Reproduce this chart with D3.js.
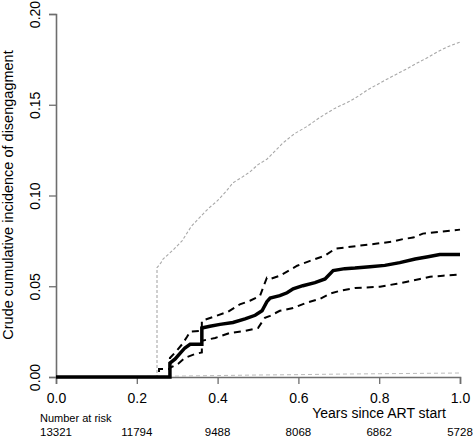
<!DOCTYPE html>
<html><head><meta charset="utf-8">
<script src="https://cdn.jsdelivr.net/npm/d3@7"></script>
<style>body{margin:0;background:#fff}svg{display:block}text{font-family:"Liberation Sans",Arial,sans-serif}</style>
</head><body>
<svg id="c" width="473" height="437"></svg>
<script>
// ---- data ----
const xTicks = [0, 0.2, 0.4, 0.6, 0.8, 1.0];
const yTicks = [0, 0.05, 0.10, 0.15, 0.20];
const riskTimes = [0, 0.2, 0.4, 0.6, 0.8, 1.0];
const riskCounts = [13321, 11794, 9488, 8068, 6862, 5728];

// cumulative incidence of disengagement (estimate)
const mainT = [0,0.282,0.282,0.295,0.307,0.319,0.332,0.361,0.361,0.381,0.406,0.438,0.468,0.493,0.510,0.522,0.530,0.554,0.572,0.587,0.611,0.641,0.666,0.686,0.715,0.740,0.777,0.814,0.851,0.889,0.921,0.950,1.0];
const mainV = [0,0,0.0077,0.010,0.013,0.016,0.018,0.018,0.027,0.028,0.029,0.030,0.032,0.034,0.0365,0.0415,0.0435,0.0448,0.0464,0.0486,0.0503,0.052,0.054,0.0586,0.0597,0.060,0.0608,0.0615,0.063,0.065,0.0663,0.0675,0.0675];

// upper confidence limit
const upT = [0,0.255,0.255,0.282,0.282,0.297,0.312,0.324,0.332,0.361,0.361,0.394,0.426,0.455,0.480,0.505,0.522,0.530,0.554,0.597,0.629,0.666,0.691,0.715,0.752,0.795,0.834,0.859,0.884,0.908,0.950,1.0];
const upV = [0,0,0.0044,0.0044,0.0105,0.014,0.018,0.022,0.025,0.0255,0.031,0.0335,0.036,0.040,0.042,0.0447,0.0547,0.054,0.0558,0.0613,0.064,0.0669,0.0707,0.0713,0.0724,0.0735,0.0746,0.076,0.0768,0.079,0.080,0.0812];

// lower confidence limit
const loT = [0,0.282,0.282,0.302,0.319,0.344,0.361,0.361,0.394,0.431,0.468,0.500,0.517,0.530,0.554,0.587,0.621,0.653,0.678,0.703,0.740,0.802,0.844,0.869,0.901,0.926,0.958,1.0];
const loV = [0,0,0.005,0.0072,0.0105,0.0127,0.0135,0.020,0.0215,0.0243,0.0254,0.027,0.0326,0.0337,0.0365,0.038,0.041,0.043,0.0459,0.0475,0.049,0.0497,0.0514,0.0525,0.054,0.0552,0.0558,0.0564];

// competing event (grey dotted)
const greyT = [0,0.25,0.25,0.26,0.265,0.29,0.312,0.335,0.356,0.378,0.399,0.42,0.438,0.46,0.48,0.50,0.522,0.54,0.562,0.59,0.621,0.653,0.69,0.728,0.75,0.77,0.81,0.844,0.87,0.894,0.92,0.943,0.97,1.0];
const greyV = [0,0,0.0602,0.063,0.065,0.070,0.075,0.083,0.088,0.093,0.097,0.102,0.107,0.110,0.113,0.117,0.120,0.124,0.129,0.134,0.138,0.143,0.148,0.152,0.155,0.158,0.163,0.167,0.170,0.173,0.176,0.179,0.182,0.1845];

// second competing event (grey dashed)
const grey2T = [0,0.27,0.4,0.5,0.6,0.7,0.8,0.9,1.0];
const grey2V = [0,0.0004,0.0008,0.0011,0.0013,0.0016,0.0018,0.002,0.0022];

// ---- chart ----
const svg = d3.select("#c");
const x = d3.scaleLinear().domain([0,1]).range([56,460]);
const y = d3.scaleLinear().domain([0,0.2]).range([377,14]);
const axisCol = "#6e6e6e";

const xa = svg.append("g").attr("transform","translate(0,377)")
  .call(d3.axisBottom(x).tickValues(xTicks).tickFormat(d3.format(".1f")).tickSize(7).tickPadding(9));
const ya = svg.append("g").attr("transform","translate(56,0)")
  .call(d3.axisLeft(y).tickValues(yTicks).tickFormat(d3.format(".2f")).tickSize(7));
[xa,ya].forEach(g=>{
  g.selectAll("path.domain").attr("stroke",axisCol).attr("stroke-width",1.6);
  g.selectAll(".tick line").attr("stroke",axisCol).attr("stroke-width",1.3);
  g.selectAll("text").attr("fill","#000").style("font-size","14px").style("font-family","'Liberation Sans',Arial,sans-serif");
});
ya.selectAll(".tick text").attr("x",null).attr("dy",null)
  .attr("transform","translate(-21,0) rotate(-90)").attr("text-anchor","middle").attr("dy","0.35em");

const mk = (T,V) => T.map((t,i)=>[t,V[i]]);
const line = d3.line().x(d=>x(d[0])).y(d=>y(d[1]));

svg.append("path").attr("d",line(mk(grey2T,grey2V))).attr("fill","none")
  .attr("stroke","#bbb").attr("stroke-width",1).attr("stroke-dasharray","4,3");
svg.append("path").attr("d",line(mk(greyT,greyV))).attr("fill","none")
  .attr("stroke","#a8a8a8").attr("stroke-width",1.1).attr("stroke-dasharray","3,2");
svg.append("path").attr("d",line(mk(upT,upV))).attr("fill","none")
  .attr("stroke","#000").attr("stroke-width",2).attr("stroke-dasharray","7,5");
svg.append("path").attr("d",line(mk(loT,loV))).attr("fill","none")
  .attr("stroke","#000").attr("stroke-width",2).attr("stroke-dasharray","7,5");
svg.append("path").attr("d",line(mk(mainT,mainV))).attr("fill","none")
  .attr("stroke","#000").attr("stroke-width",3.5);

svg.append("text").attr("transform","translate(13,195) rotate(-90)").attr("text-anchor","middle")
  .style("font-size","14.5px").text("Crude cumulative incidence of disengagment");
svg.append("text").attr("x",379).attr("y",418).attr("text-anchor","middle")
  .style("font-size","14px").text("Years since ART start");
svg.append("text").attr("x",40).attr("y",422).style("font-size","11px").text("Number at risk");
svg.selectAll("text.risk").data(riskCounts).join("text").attr("class","risk")
  .attr("x",(d,i)=>x(riskTimes[i])).attr("y",436).attr("text-anchor","middle")
  .style("font-size","11.5px").text(d=>d);
</script>
</body></html>
